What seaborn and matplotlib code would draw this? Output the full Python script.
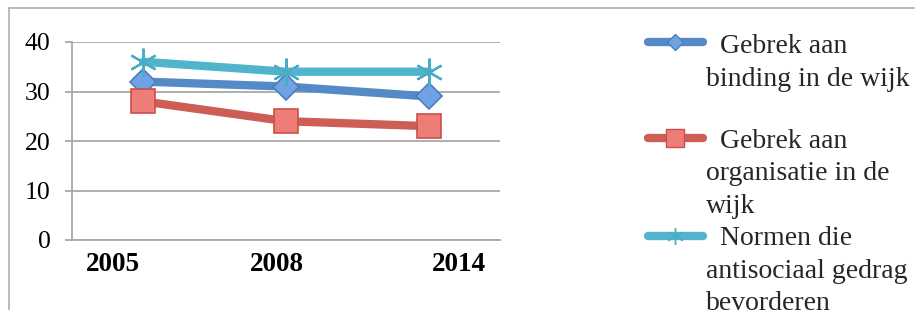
import matplotlib
matplotlib.use("Agg")
import matplotlib.pyplot as plt
import matplotlib.transforms as mtransforms
from matplotlib.lines import Line2D
import seaborn as sns
import pandas as pd

# ---- data ----
years = ["2005", "2008", "2014"]
binding = [32, 31, 29]
organisatie = [28, 24, 23]
normen = [36, 34, 34]
series_names = ["Gebrek aan binding in de wijk",
                "Gebrek aan organisatie in de wijk",
                "Normen die antisociaal gedrag bevorderen"]
legend_lines = [["  Gebrek aan", "binding in de wijk"],
                ["  Gebrek aan", "organisatie in de", "wijk"],
                ["  Normen die", "antisociaal gedrag", "bevorderen"]]
y_ticks = [0, 10, 20, 30, 40]

sns.set_theme(style="white")
plt.rcParams['font.family'] = ['Liberation Serif', 'DejaVu Serif']

W, H = 915, 310
fig = plt.figure(figsize=(W / 100, H / 100), dpi=100)
ax = fig.add_axes([72 / W, 1 - 240 / H, 428 / W, 198 / H])

styles = [
    dict(color="#558ac6", marker="D", ms=13, mfc="#6fa3e6", mec="#4a7ebb", mew=1.2),
    dict(color="#cc5e56", marker="s", ms=17, mfc="#ef7d77", mec="#c9504c", mew=1.2),
    dict(color="#50b5cb", marker=(6, 2, 0), ms=20, mfc="#4bacc6", mec="#4bacc6", mew=1.6),
]

df = pd.DataFrame({"year": years * 3,
                   "value": binding + organisatie + normen,
                   "series": sum([[n] * len(years) for n in series_names], [])})

for i, (name, st) in enumerate(zip(series_names, styles)):
    sub = df[df["series"] == name]
    sns.lineplot(data=sub, x="year", y="value", ax=ax, color=st["color"], lw=6,
                 marker=st["marker"], markersize=st["ms"], markerfacecolor=st["mfc"],
                 markeredgecolor=st["mec"], markeredgewidth=st["mew"],
                 solid_capstyle="round", legend=False, zorder=3 + i)

ax.set_xlim(-0.5, 2.5)
ax.set_ylim(0, 40)
ax.set_yticks(y_ticks)
ax.set_xlabel("")
ax.set_ylabel("")
grid_c = "#a8a8a8"
ax.yaxis.grid(True, color=grid_c, lw=1.3)
ax.xaxis.grid(False)
for s in ["top", "right"]:
    ax.spines[s].set_visible(False)
for s in ["left", "bottom"]:
    ax.spines[s].set_color(grid_c)
    ax.spines[s].set_linewidth(1.3)
ax.tick_params(axis="y", length=5, width=1.3, color=grid_c, pad=10.5,
               labelsize=18.5, labelcolor="black", left=True)
ax.tick_params(axis="x", length=0, pad=8.5, labelsize=19.5, labelcolor="black")
for lab in ax.get_xticklabels():
    lab.set_fontweight("bold")
offsets_px = [-30, -9, 30]
for lab, dx in zip(ax.get_xticklabels(), offsets_px):
    lab.set_transform(lab.get_transform() + mtransforms.ScaledTranslation(dx / 100, 0, fig.dpi_scale_trans))

# ---- manual legend ----
handle_y = [42, 138, 236]
first_base = [53, 148, 245]
line_gap = 32.5
for st, hy, fb, lines in zip(styles, handle_y, first_base, legend_lines):
    fig.add_artist(Line2D([648 / W, 703 / W], [1 - hy / H, 1 - hy / H], transform=fig.transFigure,
                          color=st["color"], lw=6, solid_capstyle="round"))
    ms = {"D": 8, "s": 12.5, (6, 2, 0): 12}[st["marker"]]
    fig.add_artist(Line2D([675 / W], [1 - hy / H], transform=fig.transFigure, marker=st["marker"],
                          ms=ms, mfc=st["mfc"], mec=st["mec"], mew=1.0, ls="none"))
    for k, t in enumerate(lines):
        fig.text(706 / W, 1 - (fb + k * line_gap) / H, t, fontsize=20, va="baseline", ha="left")

# ---- outer frame ----
frame_c = "#b0b0b0"
fig.add_artist(Line2D([8.5 / W, 1.0], [1 - 8 / H, 1 - 8 / H], transform=fig.transFigure, color=frame_c, lw=1.2))
fig.add_artist(Line2D([8.5 / W, 8.5 / W], [0, 1 - 8 / H], transform=fig.transFigure, color=frame_c, lw=1.2))

fig.savefig("out.png", dpi=100)
